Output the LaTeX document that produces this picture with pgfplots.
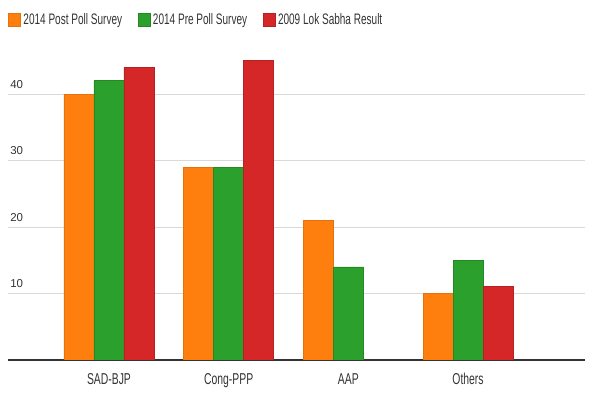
\documentclass[border=0pt]{standalone}
\usepackage{pgfplots}
\pgfplotsset{compat=1.18}
\usepackage{fontspec}
\setmainfont{Liberation Sans}
\newfontfamily\condfont[FakeStretch=0.66]{Liberation Sans}
\definecolor{cOrange}{HTML}{FF7F0E}
\definecolor{cGreen}{HTML}{2CA02C}
\definecolor{cRed}{HTML}{D62728}
\definecolor{cGrid}{HTML}{D9D9D9}
\definecolor{cText}{HTML}{333333}
\begin{document}
\begin{tikzpicture}
\path[use as bounding box] (0,0) rectangle (450bp,300bp);
\begin{axis}[
  at={(6bp,30bp)}, anchor=south west,
  scale only axis,
  width=432.75bp, height=239.4bp,
  ybar=0pt, bar width=22.5bp,
  xmin=-0.8438, xmax=3.977,
  ymin=0, ymax=48,
  xtick={0,1,2,3},
  xticklabels={SAD-BJP,Cong-PPP,AAP,Others},
  ytick={10,20,30,40},
  /pgf/number format/assume math mode=true,
  ymajorgrids,
  grid style={cGrid, line width=0.75bp},
  axis x line*=bottom,
  axis y line*=left,
  y axis line style={draw=none},
  x axis line style={draw=cText, line width=1.1bp, -},
  major tick length=0pt,
  tick style={draw=none},
  xticklabel style={font=\condfont\fontsize{11.8bp}{13bp}\selectfont, text=cText, anchor=base, inner sep=0pt, yshift=-18bp},
  yticklabel style={font=\fontsize{8.6bp}{10bp}\selectfont, text=cText, anchor=south west, inner sep=0pt, xshift=1.5bp, yshift=4bp},
  legend columns=3,
  legend style={draw=none, fill=none, inner sep=0pt, outer sep=0pt,
    at={(rel axis cs:0,1)}, anchor=west, yshift=15.6bp,
    font=\condfont\fontsize{11.4bp}{13bp}\selectfont, text=cText,
    /tikz/every even column/.append style={column sep=11.5bp},
    nodes={inner sep=0pt}},
  legend image code/.code={\fill[#1] (0bp,-5bp) rectangle (9bp,5bp);},
  legend cell align=left,
]
\addplot[fill=cOrange, draw=cOrange!90!black, line width=0.6bp] coordinates {(0,40) (1,29) (2,21) (3,10)};
\addlegendentry{\hspace{2bp}2014 Post Poll Survey}
\addplot[fill=cGreen, draw=cGreen!85!black, line width=0.6bp] coordinates {(0,42) (1,29) (2,14) (3,15)};
\addlegendentry{\hspace{2bp}2014 Pre Poll Survey}
\addplot[fill=cRed, draw=cRed!85!black, line width=0.6bp] coordinates {(0,44) (1,45) (3,11)};
\addlegendentry{\hspace{2bp}2009 Lok Sabha Result}
\end{axis}
\end{tikzpicture}
\end{document}
